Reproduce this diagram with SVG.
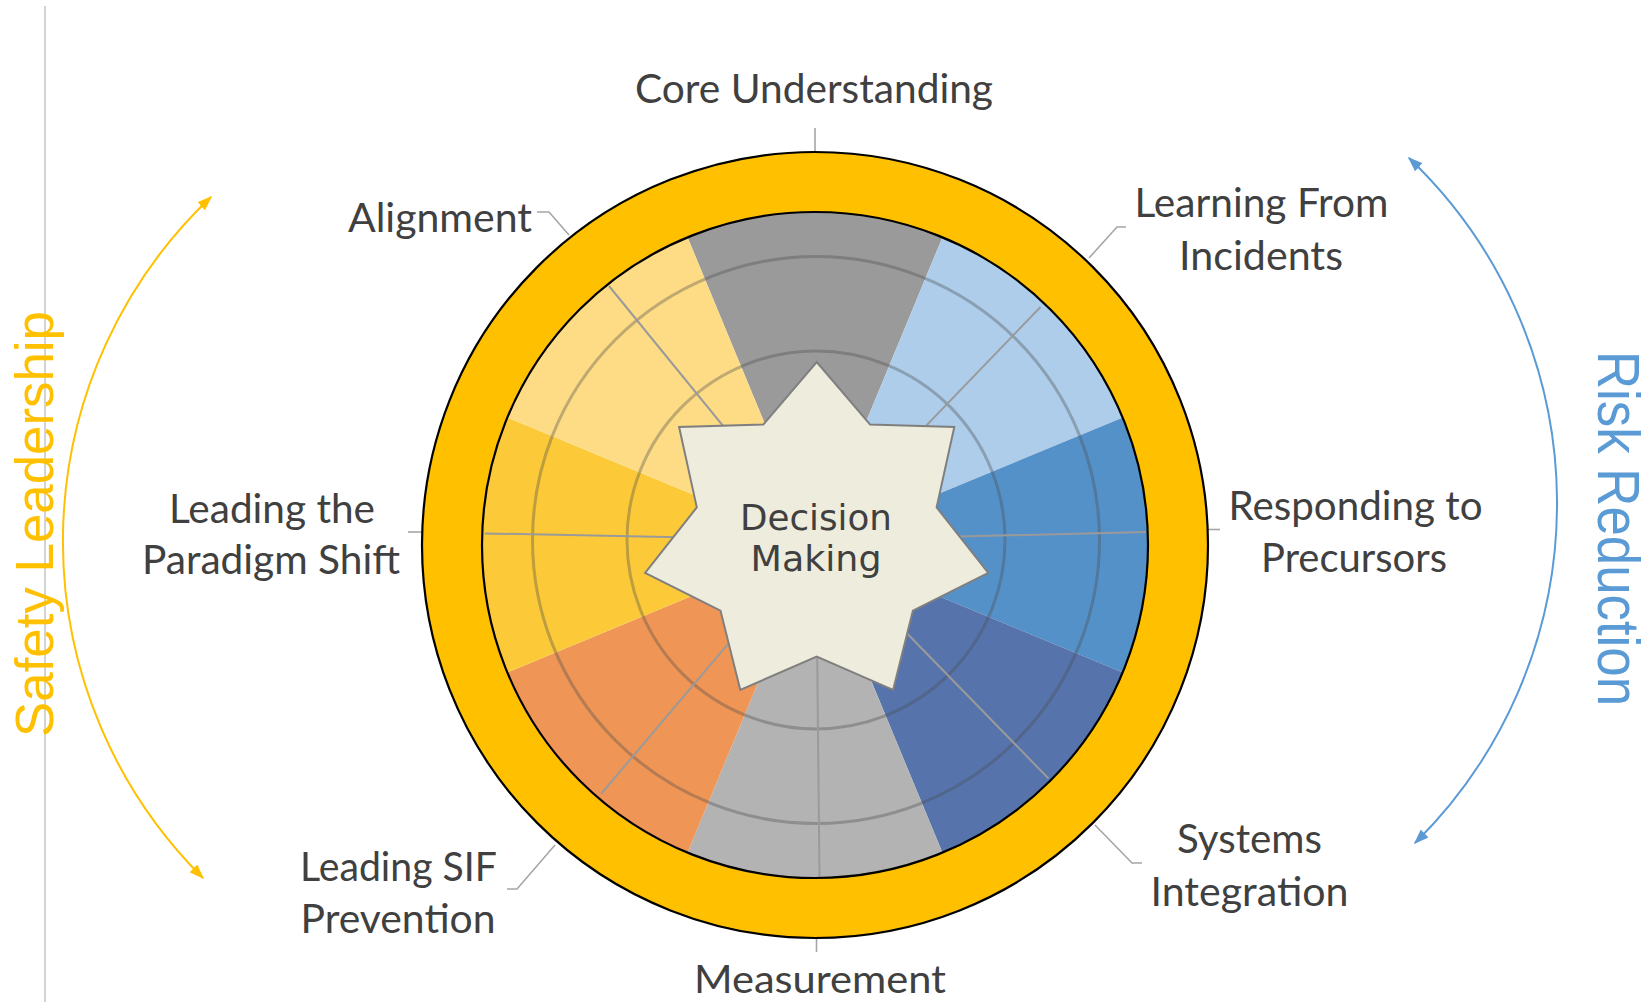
<svg xmlns="http://www.w3.org/2000/svg" width="1652" height="1002" viewBox="0 0 1652 1002">
  <defs>
    <style>
      .lbl { font-family: Lato, "Open Sans", "Liberation Sans", sans-serif; font-size: 41px; fill: #404040; text-anchor: middle; }
      .core { font-family: "DejaVu Sans", Verdana, sans-serif; font-size: 35px; fill: #404040; text-anchor: middle; }
      .side { font-family: "Liberation Sans Narrow", "Liberation Sans", Arial, sans-serif; font-size: 54px; text-anchor: middle; }
      .grid { fill: none; stroke: #4a4a4a; stroke-opacity: 0.35; stroke-width: 3; }
      .spoke { stroke: #9a9a9a; stroke-width: 2; fill: none; }
      .leader { stroke: #a6a6a6; stroke-width: 1.6; fill: none; }
      .edge { fill: none; stroke: #000; stroke-width: 2.2; }
    </style>
    <marker id="ahGold" viewBox="0 0 10 10" refX="9" refY="5" markerWidth="15" markerHeight="11" markerUnits="userSpaceOnUse" orient="auto-start-reverse" preserveAspectRatio="none">
      <path d="M0,0 L10,5 L0,10 z" fill="#FFC000"/>
    </marker>
    <marker id="ahBlue" viewBox="0 0 10 10" refX="9" refY="5" markerWidth="15" markerHeight="11" markerUnits="userSpaceOnUse" orient="auto-start-reverse" preserveAspectRatio="none">
      <path d="M0,0 L10,5 L0,10 z" fill="#5B9BD5"/>
    </marker>
  </defs>

  <rect width="1652" height="1002" fill="#ffffff"/>

  <!-- page margin rule -->
  <line x1="45" y1="6" x2="45" y2="1002" stroke="#c4c4c4" stroke-width="1.5"/>

  <!-- wheel sectors -->
  <g id="sectors">
    <path id="sector-core" d="M815,545 L687.2,236.4 A334,334 0 0 1 942.8,236.4 Z" fill="#9A9A9A"/>
    <path id="sector-learning" d="M815,545 L942.8,236.4 A334,334 0 0 1 1123.6,417.2 Z" fill="#AECDEA"/>
    <path id="sector-precursors" d="M815,545 L1123.6,417.2 A334,334 0 0 1 1123.6,672.8 Z" fill="#5591C9"/>
    <path id="sector-systems" d="M815,545 L1123.6,672.8 A334,334 0 0 1 942.8,853.6 Z" fill="#5673AC"/>
    <path id="sector-measurement" d="M815,545 L942.8,853.6 A334,334 0 0 1 687.2,853.6 Z" fill="#B3B3B3"/>
    <path id="sector-sif" d="M815,545 L687.2,853.6 A334,334 0 0 1 506.4,672.8 Z" fill="#EF9556"/>
    <path id="sector-paradigm" d="M815,545 L506.4,672.8 A334,334 0 0 1 506.4,417.2 Z" fill="#FCCA38"/>
    <path id="sector-alignment" d="M815,545 L506.4,417.2 A334,334 0 0 1 687.2,236.4 Z" fill="#FDDC85"/>
  </g>

  <!-- radar grid rings and axes -->
  <g id="grid">
    <circle class="grid" cx="816" cy="540" r="94.5"/>
    <circle class="grid" cx="816" cy="540" r="189"/>
    <circle class="grid" cx="816" cy="540" r="283.5"/>
  </g>
  <g id="connectors">
    <line class="spoke" x1="816" y1="540" x2="609" y2="286"/>
    <line class="spoke" x1="816" y1="540" x2="1040.5" y2="307"/>
    <line class="spoke" x1="816" y1="540" x2="484.7" y2="533.4"/>
    <line class="spoke" x1="816" y1="540" x2="1146" y2="532"/>
    <line class="spoke" x1="816" y1="540" x2="601" y2="794"/>
    <line class="spoke" x1="816" y1="540" x2="1048.5" y2="778.5"/>
    <line class="spoke" x1="816" y1="540" x2="819.5" y2="878"/>

    <!-- label leaders outside the ring -->
    <line class="leader" x1="815" y1="128" x2="815" y2="151"/>
    <polyline class="leader" points="537,212 549,212 569,235"/>
    <polyline class="leader" points="1126,227 1117,227 1089,258"/>
    <line class="leader" x1="1208" y1="529.5" x2="1220" y2="529.5"/>
    <polyline class="leader" points="1095,825 1132,863 1142,863"/>
    <line class="leader" x1="816.5" y1="938" x2="816.5" y2="952"/>
    <polyline class="leader" points="507,889 517,889 555,845"/>
    <line class="leader" x1="408" y1="532" x2="422" y2="532"/>

    <!-- side cycle arrows -->
    <path d="M203,878 A474.5,474.5 0 0 1 211,197" fill="none" stroke="#FFC000" stroke-width="2" marker-start="url(#ahGold)" marker-end="url(#ahGold)"/>
    <path d="M1409,158 A477,477 0 0 1 1415,843" fill="none" stroke="#5B9BD5" stroke-width="2" marker-start="url(#ahBlue)" marker-end="url(#ahBlue)"/>
  </g>

  <!-- outer band -->
  <g id="band">
    <circle cx="815" cy="545" r="363" fill="none" stroke="#FFC000" stroke-width="60"/>
    <circle class="edge" cx="815" cy="545" r="393"/>
    <circle class="edge" cx="815" cy="545" r="333"/>
  </g>

  <!-- centre star -->
  <g id="decision-making">
    <polygon points="816.7,362 870.1,424.6 954.3,426.9 936.6,507.4 988.3,572.9 912.9,610.6 893.1,689.9 816.7,656.5 740.3,689.9 720.5,610.6 645.1,572.9 696.8,507.4 679.1,426.9 763.3,424.6" fill="#EEECDC" stroke="#7f7f7f" stroke-width="2" stroke-linejoin="miter"/>
    <text class="core" x="816" y="530" textLength="152" lengthAdjust="spacingAndGlyphs">Decision</text>
    <text class="core" x="816" y="571" textLength="131" lengthAdjust="spacingAndGlyphs">Making</text>
  </g>

  <!-- category labels -->
  <g id="core-understanding"><text class="lbl" x="814" y="103" textLength="358" lengthAdjust="spacingAndGlyphs">Core Understanding</text></g>
  <g id="alignment"><text class="lbl" x="440" y="232" textLength="184" lengthAdjust="spacingAndGlyphs">Alignment</text></g>
  <g id="learning-from-incidents">
    <text class="lbl" x="1261.5" y="217" textLength="254" lengthAdjust="spacingAndGlyphs">Learning From</text>
    <text class="lbl" x="1261" y="270" textLength="164" lengthAdjust="spacingAndGlyphs">Incidents</text>
  </g>
  <g id="responding-to-precursors">
    <text class="lbl" x="1355.5" y="520" textLength="254" lengthAdjust="spacingAndGlyphs">Responding to</text>
    <text class="lbl" x="1354" y="572" textLength="186" lengthAdjust="spacingAndGlyphs">Precursors</text>
  </g>
  <g id="systems-integration">
    <text class="lbl" x="1249.5" y="853" textLength="145" lengthAdjust="spacingAndGlyphs">Systems</text>
    <text class="lbl" x="1249.5" y="906" textLength="198" lengthAdjust="spacingAndGlyphs">Integration</text>
  </g>
  <g id="measurement"><text class="lbl" x="820" y="993" style="font-size:39px" textLength="252" lengthAdjust="spacingAndGlyphs">Measurement</text></g>
  <g id="leading-sif-prevention">
    <text class="lbl" x="398.5" y="881" textLength="197" lengthAdjust="spacingAndGlyphs">Leading SIF</text>
    <text class="lbl" x="398" y="933" textLength="195" lengthAdjust="spacingAndGlyphs">Prevention</text>
  </g>
  <g id="leading-the-paradigm-shift">
    <text class="lbl" x="272" y="523" textLength="206" lengthAdjust="spacingAndGlyphs">Leading the</text>
    <text class="lbl" x="271" y="573.5" textLength="258" lengthAdjust="spacingAndGlyphs">Paradigm Shift</text>
  </g>

  <!-- side titles -->
  <g id="safety-leadership">
    <text class="side" transform="translate(53,524) rotate(-90)" fill="#FFC000" textLength="426" lengthAdjust="spacingAndGlyphs">Safety Leadership</text>
  </g>
  <g id="risk-reduction">
    <text class="side" transform="translate(1598,528.5) rotate(90)" fill="#5B9BD5" style="font-size:60px" textLength="355" lengthAdjust="spacingAndGlyphs">Risk Reduction</text>
  </g>
</svg>
